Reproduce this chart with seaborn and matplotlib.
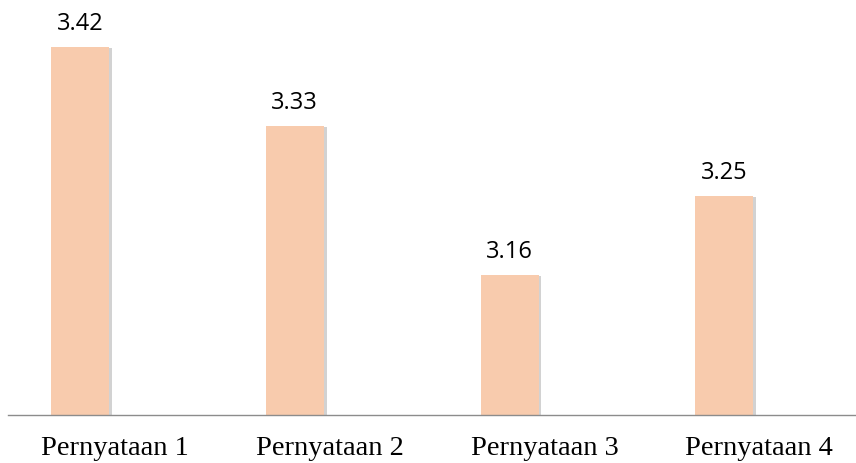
import matplotlib
matplotlib.use("Agg")
import matplotlib.pyplot as plt
import matplotlib.patheffects as pe
import matplotlib.transforms as mtransforms
import seaborn as sns
import pandas as pd

categories = ["Pernyataan 1", "Pernyataan 2", "Pernyataan 3", "Pernyataan 4"]
values = [3.42, 3.33, 3.16, 3.25]
value_labels = ["3.42", "3.33", "3.16", "3.25"]

df = pd.DataFrame({"cat": categories, "val": values})

sns.set_style("white")
fig = plt.figure(figsize=(8.56, 4.63), dpi=100)
ax = fig.add_axes([0.0093, 0.1037, 0.99, 0.8963])

sns.barplot(data=df, x="cat", y="val", color="#F8CBAD", width=0.27,
            saturation=1, ax=ax)
for p in ax.patches:
    p.set_edgecolor("none")
    p.set_path_effects([pe.SimplePatchShadow(offset=(2, -1), shadow_rgbFace="#7f7f7f", alpha=0.35),
                        pe.Normal()])

ax.set_ylim(3.0, 3.4735)
ax.set_xlim(-0.335, 3.61)

for i, (v, lab) in enumerate(zip(values, value_labels)):
    ax.annotate(lab, (i, v), xytext=(0, 8), textcoords="offset points",
                ha="center", va="bottom", fontsize=17, family="Open Sans",
                color="black")

for s in ["top", "right", "left"]:
    ax.spines[s].set_visible(False)
ax.spines["bottom"].set_color("#8c8c8c")
ax.spines["bottom"].set_linewidth(1.0)
ax.set_yticks([])
ax.set_xlabel("")
ax.set_ylabel("")
ax.tick_params(axis="x", length=0, pad=15)
shift = mtransforms.ScaledTranslation(0.35, 0, fig.dpi_scale_trans)
for t in ax.get_xticklabels():
    t.set_fontfamily("Liberation Serif")
    t.set_fontsize(20.5)
    t.set_color("black")
    t.set_transform(t.get_transform() + shift)

fig.savefig("out.png", dpi=100)
